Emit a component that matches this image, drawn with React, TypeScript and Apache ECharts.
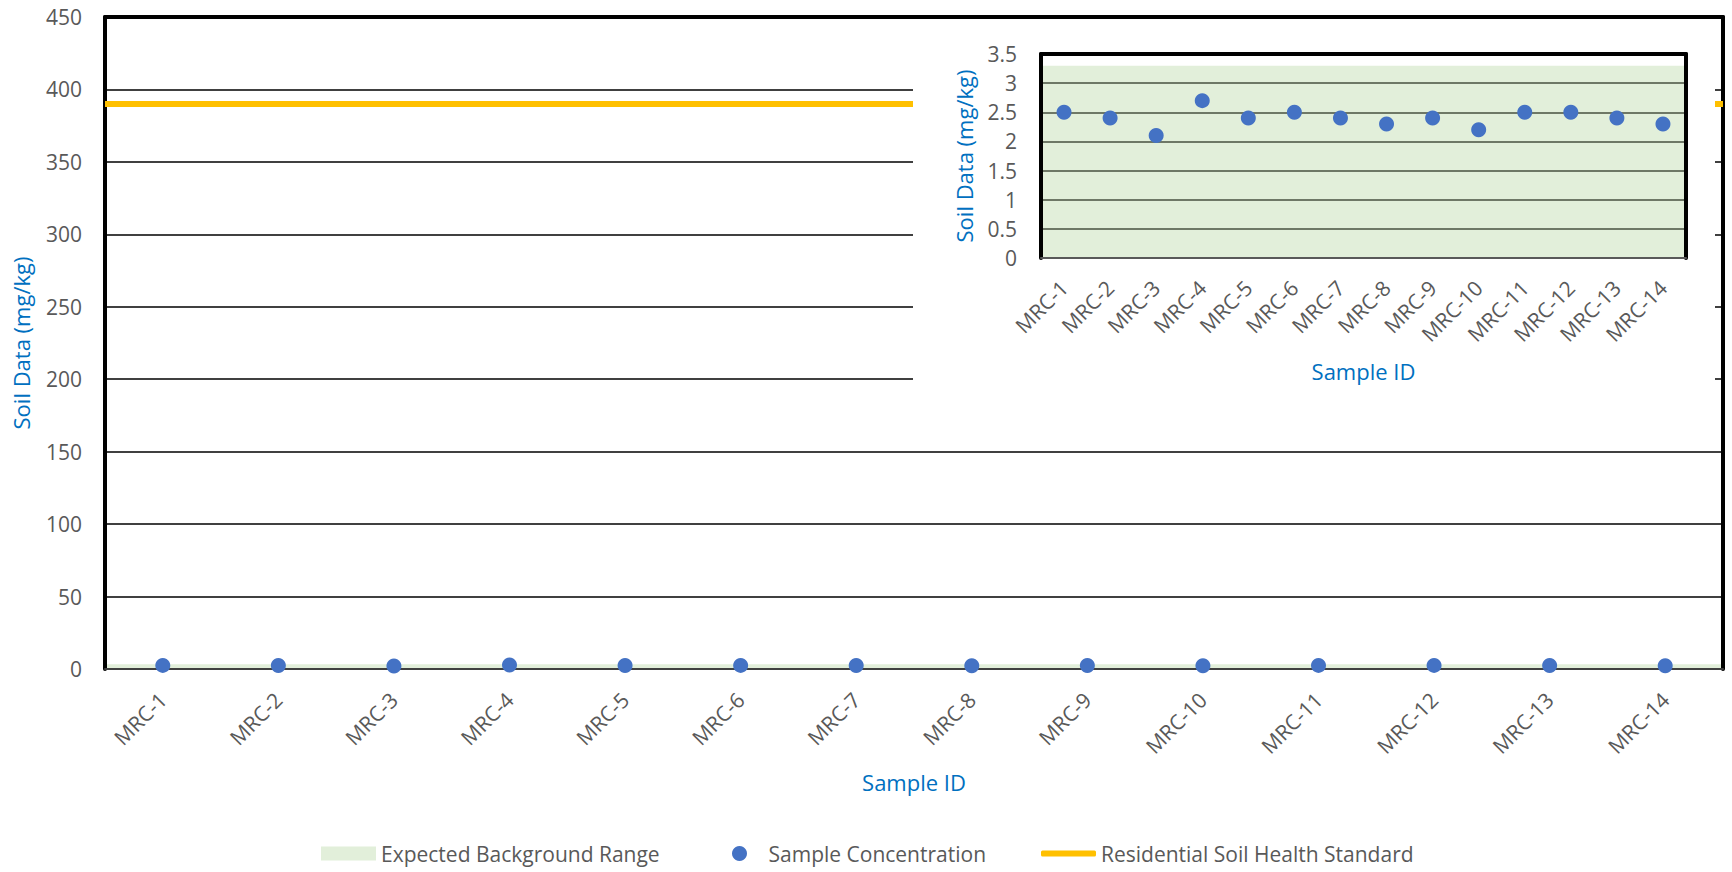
import React, { useEffect, useRef } from "react";
import * as echarts from "echarts";

const categories = [
  "MRC-1", "MRC-2", "MRC-3", "MRC-4", "MRC-5", "MRC-6", "MRC-7",
  "MRC-8", "MRC-9", "MRC-10", "MRC-11", "MRC-12", "MRC-13", "MRC-14",
];
const sampleValues = [2.5, 2.4, 2.1, 2.7, 2.4, 2.5, 2.4, 2.3, 2.4, 2.2, 2.5, 2.5, 2.4, 2.3];
const backgroundRange = [0, 3.3];
const healthStandard = 390;
const mainYAxis = { min: 0, max: 450, interval: 50 };
const insetYAxis = { min: 0, max: 3.5, interval: 0.5 };

const seriesNames = {
  bg: "Expected Background Range",
  sample: "Sample Concentration",
  std: "Residential Soil Health Standard",
};

const FONT = "'Open Sans', 'Noto Sans', sans-serif";
const GRAY = "#595959";
const BLUE = "#0070C0";
const GREEN = "#E2EFDA";
const DOT = "#4472C4";
const YELLOW = "#FFC000";

function topBorderAxis(lineColor: string) {
  return {
    type: "category",
    data: categories,
    position: "top",
    z: 4,
    axisLine: { show: true, onZero: false, lineStyle: { color: lineColor, width: 4 } },
    axisTick: { show: false },
    axisLabel: { show: false },
    splitLine: { show: false },
  };
}

function mainOption(): any {
  return {
    animation: false,
    textStyle: { fontFamily: FONT },
    grid: { left: 105, top: 17, width: 1618, height: 652 },
    xAxis: [
      {
        type: "category",
        data: categories,
        boundaryGap: true,
        z: 4,
        axisLine: { show: true, onZero: false, lineStyle: { color: "#404040", width: 2 } },
        axisTick: { show: false },
        axisLabel: { rotate: 45, color: GRAY, fontSize: 21, fontFamily: FONT, margin: 27, interval: 0 },
        name: "Sample ID",
        nameLocation: "middle",
        nameGap: 102,
        nameTextStyle: { color: BLUE, fontSize: 22, fontFamily: FONT },
        splitLine: { show: false },
      },
      topBorderAxis("#000"),
    ],
    yAxis: [
      {
        type: "value",
        min: mainYAxis.min,
        max: mainYAxis.max,
        interval: mainYAxis.interval,
        z: 3,
        axisLine: { show: true, onZero: false, lineStyle: { color: "#000", width: 4 } },
        axisTick: { show: false },
        axisLabel: { color: GRAY, fontSize: 21, fontFamily: FONT, margin: 23 },
        splitLine: { show: true, lineStyle: { color: "#000", width: 1.5 } },
        name: "Soil Data (mg/kg)",
        nameLocation: "middle",
        nameGap: 73,
        nameTextStyle: { color: BLUE, fontSize: 22, fontFamily: FONT },
      },
      {
        type: "value",
        min: mainYAxis.min,
        max: mainYAxis.max,
        interval: mainYAxis.interval,
        position: "right",
        z: 4,
        axisLine: { show: true, onZero: false, lineStyle: { color: "#000", width: 4 } },
        axisTick: { show: false },
        axisLabel: { show: false },
        splitLine: { show: false },
      },
    ],
    legend: [
      {
        data: [{ name: seriesNames.bg, icon: "rect" }],
        left: 321,
        top: 843,
        padding: 0,
        itemWidth: 55,
        itemHeight: 14,
        itemStyle: { borderWidth: 0 },
        textStyle: { color: GRAY, fontSize: 21, fontFamily: FONT },
        selectedMode: false,
      },
      {
        data: [{ name: seriesNames.sample, icon: "circle" }],
        left: 732,
        top: 843,
        padding: 0,
        itemWidth: 48,
        itemHeight: 15,
        itemStyle: { borderWidth: 0, opacity: 1 },
        textStyle: { color: GRAY, fontSize: 21, fontFamily: FONT },
        selectedMode: false,
      },
      {
        data: [{ name: seriesNames.std, icon: "roundRect" }],
        left: 1041,
        top: 843,
        padding: 0,
        itemWidth: 55,
        itemHeight: 6,
        itemStyle: { borderWidth: 0 },
        textStyle: { color: GRAY, fontSize: 21, fontFamily: FONT },
        selectedMode: false,
      },
    ],
    series: [
      {
        name: seriesNames.bg,
        type: "line",
        data: [],
        itemStyle: { color: GREEN },
        lineStyle: { color: GREEN },
        symbol: "none",
        z: 1,
        markArea: {
          silent: true,
          itemStyle: { color: GREEN },
          data: [[{ yAxis: backgroundRange[0] }, { yAxis: backgroundRange[1] }]],
        },
      },
      {
        name: seriesNames.std,
        type: "line",
        data: [],
        symbol: "none",
        z: 5,
        itemStyle: { color: YELLOW },
        lineStyle: { color: YELLOW, width: 6 },
        markLine: {
          silent: true,
          symbol: "none",
          label: { show: false },
          lineStyle: { color: YELLOW, width: 6, type: "solid" },
          data: [{ yAxis: healthStandard }],
        },
      },
      {
        name: seriesNames.sample,
        type: "scatter",
        data: sampleValues,
        symbol: "circle",
        symbolSize: 15,
        itemStyle: { color: DOT, opacity: 1 },
        z: 6,
      },
    ],
  };
}

function insetOption(): any {
  return {
    animation: false,
    textStyle: { fontFamily: FONT },
    grid: { left: 128, top: 32, width: 645, height: 204 },
    xAxis: [
      {
        type: "category",
        data: categories,
        boundaryGap: true,
        z: 4,
        axisLine: { show: true, onZero: false, lineStyle: { color: GRAY, width: 2 } },
        axisTick: { show: false },
        axisLabel: { rotate: 45, color: GRAY, fontSize: 21, fontFamily: FONT, margin: 26, interval: 0 },
        name: "Sample ID",
        nameLocation: "middle",
        nameGap: 102,
        nameTextStyle: { color: BLUE, fontSize: 22, fontFamily: FONT },
        splitLine: { show: false },
      },
      topBorderAxis("#000"),
    ],
    yAxis: [
      {
        type: "value",
        min: insetYAxis.min,
        max: insetYAxis.max,
        interval: insetYAxis.interval,
        z: 3,
        axisLine: { show: true, onZero: false, lineStyle: { color: "#000", width: 4 } },
        axisTick: { show: false },
        axisLabel: { color: GRAY, fontSize: 21, fontFamily: FONT, margin: 24 },
        splitLine: { show: true, lineStyle: { color: "#6E7866", width: 2 } },
        name: "Soil Data (mg/kg)",
        nameLocation: "middle",
        nameGap: 66,
        nameTextStyle: { color: BLUE, fontSize: 22, fontFamily: FONT },
      },
      {
        type: "value",
        min: insetYAxis.min,
        max: insetYAxis.max,
        interval: insetYAxis.interval,
        position: "right",
        z: 4,
        axisLine: { show: true, onZero: false, lineStyle: { color: "#000", width: 4 } },
        axisTick: { show: false },
        axisLabel: { show: false },
        splitLine: { show: false },
      },
    ],
    series: [
      {
        name: seriesNames.bg,
        type: "line",
        data: [],
        symbol: "none",
        z: 1,
        markArea: {
          silent: true,
          itemStyle: { color: GREEN },
          data: [[{ yAxis: backgroundRange[0] }, { yAxis: backgroundRange[1] }]],
        },
      },
      {
        name: seriesNames.sample,
        type: "scatter",
        data: sampleValues,
        symbol: "circle",
        symbolSize: 15,
        itemStyle: { color: DOT, opacity: 1 },
        z: 6,
      },
    ],
  };
}

export default function App() {
  const mainRef = useRef<HTMLDivElement>(null);
  const insetRef = useRef<HTMLDivElement>(null);

  useEffect(() => {
    if (!mainRef.current || !insetRef.current) return;
    const main = echarts.init(mainRef.current, null, { renderer: "svg" });
    main.setOption(mainOption());
    const inset = echarts.init(insetRef.current, null, { renderer: "svg" });
    inset.setOption(insetOption());
    return () => {
      main.dispose();
      inset.dispose();
    };
  }, []);

  return (
    <div>
      <div
        ref={mainRef}
        style={{ position: "absolute", left: 0, top: 0, width: 1732, height: 872, background: "#fff" }}
      />
      <div
        ref={insetRef}
        style={{ position: "absolute", left: 913, top: 22, width: 802, height: 398, background: "#fff" }}
      />
    </div>
  );
}
